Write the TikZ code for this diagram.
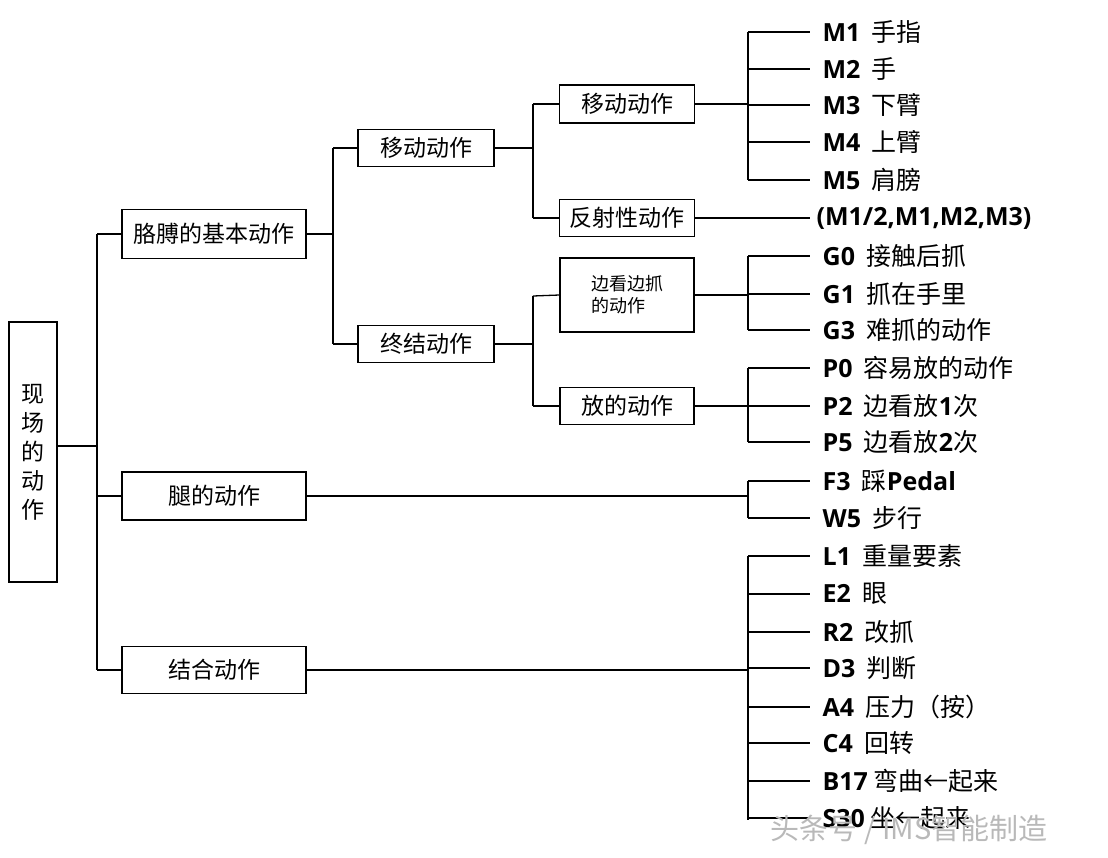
\documentclass[tikz,border=0pt]{standalone}
\usepackage{fontspec}
\setmainfont{Noto Sans CJK SC}
\newfontfamily\code{Open Sans}
\begin{document}
\begin{tikzpicture}[x=1pt,y=-1pt,line width=1.3pt,
  bx/.style={draw,minimum height=37pt,inner sep=0pt,font=\fontsize{23}{26}\selectfont},
  lab/.style={anchor=west,inner sep=0pt,font=\fontsize{25}{28}\selectfont},
  ln/.style={line width=1.3pt}]
\useasboundingbox (0,0) rectangle (1108,857);
\newcommand\cd[1]{{\code\bfseries #1}}
% boxes
\node[draw,minimum width=48pt,minimum height=260pt,inner sep=0pt,align=center,font=\fontsize{23}{29}\selectfont] (root) at (33,452) {现\\场\\的\\动\\作};
\node[bx,minimum width=184pt,minimum height=49pt] (arm) at (214,234) {胳膊的基本动作};
\node[bx,minimum width=184pt,minimum height=48pt] (leg) at (214,496) {腿的动作};
\node[bx,minimum width=184pt,minimum height=47pt] (comb) at (214,670) {结合动作};
\node[bx,minimum width=136pt] (mv1) at (426,148) {移动动作};
\node[bx,minimum width=136pt] (end) at (426,344) {终结动作};
\node[bx,minimum width=135pt,minimum height=38pt] (mv2) at (627,104) {移动动作};
\node[bx,minimum width=135pt] (refl) at (627,218) {反射性动作};
\node[bx,minimum width=134pt,minimum height=74pt,align=left,font=\fontsize{18}{22}\selectfont] (grab) at (627,295) {边看边抓\\的动作};
\node[bx,minimum width=134pt] (put) at (627,406) {放的动作};
% spine 1
\coordinate (s1) at (97,446);
\draw[ln] (root.east|-s1) -- (s1);
\draw[ln] (97,234) -- (97,670);
\draw[ln] (97,234) -- (arm.west);
\draw[ln] (97,496) -- (leg.west);
\draw[ln] (97,670) -- (comb.west);
% spine 2
\draw[ln] (arm.east) -- (333,234);
\draw[ln] (333,148) -- (333,344);
\draw[ln] (333,148) -- (mv1.west);
\draw[ln] (333,344) -- (end.west);
% spine 3
\draw[ln] (mv1.east) -- (533,148);
\draw[ln] (533,104) -- (533,218);
\draw[ln] (533,104) -- (mv2.west);
\draw[ln] (533,218) -- (refl.west);
\draw[ln] (end.east) -- (533,344);
\draw[ln] (533,296) -- (533,406);
\draw[ln] (533,296) -- (grab.west);
\draw[ln] (533,406) -- (put.west);
% leaves
\newcommand\leaf[3]{\node[lab] (#1) at (822,#2) {#3};\draw[ln] (748,#2) -- (810,#2);}
\draw[ln] (mv2.east) -- (748,104);
\draw[ln] (748,32) -- (748,180);
\leaf{m1}{32}{\cd{M1}\ \ 手指}
\leaf{m2}{69}{\cd{M2}\ \ 手}
\leaf{m3}{105}{\cd{M3}\ \ 下臂}
\leaf{m4}{142}{\cd{M4}\ \ 上臂}
\leaf{m5}{180}{\cd{M5}\ \ 肩膀}
\node[lab] (rf) at (816,218) {\cd{(M1/2,M1,M2,M3)}};
\draw[ln] (refl.east) -- (810,218);
\draw[ln] (grab.east) -- (748,295);
\draw[ln] (748,256) -- (748,330);
\leaf{g0}{256}{\cd{G0}\ \ 接触后抓}
\leaf{g1}{294}{\cd{G1}\ \ 抓在手里}
\leaf{g3}{330}{\cd{G3}\ \ 难抓的动作}
\draw[ln] (put.east) -- (748,406);
\draw[ln] (748,368) -- (748,442);
\leaf{p0}{368}{\cd{P0}\ \ 容易放的动作}
\leaf{p2}{406}{\cd{P2}\ \ 边看放\cd{1}次}
\leaf{p5}{442}{\cd{P5}\ \ 边看放\cd{2}次}
\draw[ln] (leg.east) -- (748,496);
\draw[ln] (748,481) -- (748,518);
\leaf{f3}{481}{\cd{F3}\ \ 踩\cd{Pedal}}
\leaf{w5}{518}{\cd{W5}\ \ 步行}
\draw[ln] (comb.east) -- (748,670);
\draw[ln] (748,556) -- (748,820);
\leaf{l1}{556}{\cd{L1}\ \ 重量要素}
\leaf{e2}{594}{\cd{E2}\ \ 眼}
\leaf{r2}{632}{\cd{R2}\ \ 改抓}
\leaf{d3}{668}{\cd{D3}\ \ 判断}
\leaf{a4}{707}{\cd{A4}\ \ 压力（按）}
\leaf{c4}{743}{\cd{C4}\ \ 回转}
\leaf{b17}{781}{\cd{B17}\ 弯曲←起来}
\leaf{s30}{818}{\cd{S30}\ 坐←起来}
% watermark
\node[anchor=west,inner sep=0pt,text=gray!55,font=\fontsize{29}{31}\selectfont] (wm) at (770,830) {头条号 / IMS智能制造};
\end{tikzpicture}
\end{document}
